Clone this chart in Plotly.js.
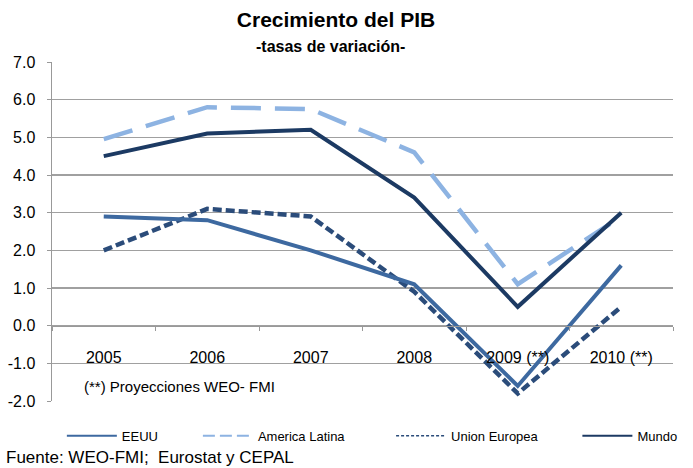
<!DOCTYPE html>
<html>
<head>
<meta charset="utf-8">
<script src="https://cdn.plot.ly/plotly-3.0.1.min.js"></script>
<style>html,body{margin:0;padding:0;background:#fff;}#chart{width:693px;height:468px;}</style>
</head>
<body>
<div id="chart"></div>
<script>
const categories = ["2005", "2006", "2007", "2008", "2009 (**)", "2010 (**)"];
const eeuu = [2.9, 2.8, 2.0, 1.1, -1.6, 1.6];
const americaLatina = [4.95, 5.8, 5.75, 4.6, 1.1, 2.9];
const unionEuropea = [2.0, 3.1, 2.9, 0.9, -1.8, 0.5];
const mundo = [4.5, 5.1, 5.2, 3.4, 0.5, 3.0];
const yTicks = [-2, -1, 0, 1, 2, 3, 4, 5, 6, 7];
const yTickLabels = yTicks.map(v => v.toFixed(1));

const FONT = "Liberation Sans, Arial, sans-serif";
const C_EEUU = "#3D69A0", C_LA = "#8DB3E2", C_UE = "#2B4C7A", C_MUNDO = "#1C3A63";

const traces = [
  {x: categories, y: americaLatina, mode: "lines", line: {color: C_LA, width: 4.5, dash: "30px,14px"}, showlegend: false, hoverinfo: "y"},
  {x: categories, y: unionEuropea, mode: "lines", line: {color: C_UE, width: 4.5, dash: "9px,4px"}, showlegend: false, hoverinfo: "y"},
  {x: categories, y: eeuu, mode: "lines", line: {color: C_EEUU, width: 4}, showlegend: false, hoverinfo: "y"},
  {x: categories, y: mundo, mode: "lines", line: {color: C_MUNDO, width: 4}, showlegend: false, hoverinfo: "y"},
  // legend entries
  {x: [null], y: [null], name: "EEUU", mode: "lines", line: {color: C_EEUU, width: 2}, legend: "legend"},
  {x: [null], y: [null], name: "America Latina", mode: "lines", line: {color: C_LA, width: 2, dash: "12px,5px"}, legend: "legend2"},
  {x: [null], y: [null], name: "Union Europea", mode: "lines", line: {color: C_UE, width: 1.5, dash: "3px,2px"}, legend: "legend3"},
  {x: [null], y: [null], name: "Mundo", mode: "lines", line: {color: C_MUNDO, width: 2}, legend: "legend4"}
];

const L = 52, W = 630, B = 67, H = 339;
function px2x(p) { return (p - L) / W; }
const legY = -0.103;
function leg(xp) {
  return {x: px2x(xp), y: legY, xanchor: "left", yanchor: "middle", orientation: "h",
    bgcolor: "rgba(0,0,0,0)", borderwidth: 0, itemwidth: 50,
    font: {family: FONT, size: 13, color: "#000"}};
}

const layout = {
  width: 693, height: 468,
  margin: {l: L, r: 693 - L - W, t: 62, b: B},
  paper_bgcolor: "#fff", plot_bgcolor: "#fff",
  font: {family: FONT, color: "#000"},
  title: {text: "Crecimiento del PIB", x: 336 / 693, xanchor: "center", xref: "container",
    y: 1 - 20 / 468, yanchor: "middle", yref: "container",
    font: {family: FONT, size: 21, weight: "bold", color: "#000"}},
  xaxis: {
    type: "category", anchor: "free", position: 2 / 9,
    showline: true, linecolor: "#999", linewidth: 1.5,
    showgrid: false, zeroline: false,
    ticks: "outside", tickson: "boundaries", ticklen: 4, tickcolor: "#999", tickwidth: 1,
    ticklabelstandoff: 17,
    tickfont: {family: FONT, size: 16, color: "#000"},
    range: [-0.5, 5.5], fixedrange: true
  },
  yaxis: {
    range: [-2, 7], tickmode: "array", tickvals: yTicks, ticktext: yTickLabels,
    showline: true, linecolor: "#999", linewidth: 1.5,
    showgrid: true, gridcolor: "#A0A0A0", gridwidth: 1.5,
    zeroline: false,
    ticks: "outside", ticklen: 4, tickcolor: "#999", tickwidth: 1,
    ticklabelstandoff: 8,
    tickfont: {family: FONT, size: 16, color: "#000"}, fixedrange: true
  },
  legend: leg(62),
  legend2: leg(200),
  legend3: leg(396),
  legend4: leg(585),
  annotations: [
    {text: "<b>-tasas de variación-</b>", xref: "paper", yref: "paper", x: px2x(335), y: (401 - 47) / H,
      xanchor: "center", yanchor: "middle", showarrow: false, font: {family: FONT, size: 16, color: "#000"}},
    {text: "(**) Proyecciones WEO- FMI", xref: "paper", yref: "paper", x: px2x(82), y: (401 - 386) / H,
      xanchor: "left", yanchor: "middle", showarrow: false, font: {family: FONT, size: 15, color: "#000"}},
    {text: "Fuente: WEO-FMI;  Eurostat y CEPAL", xref: "paper", yref: "paper", x: px2x(3), y: (401 - 457) / H,
      xanchor: "left", yanchor: "middle", showarrow: false, font: {family: FONT, size: 17, color: "#000"}}
  ]
};

Plotly.newPlot("chart", traces, layout, {displayModeBar: false, staticPlot: true});
</script>
</body>
</html>
